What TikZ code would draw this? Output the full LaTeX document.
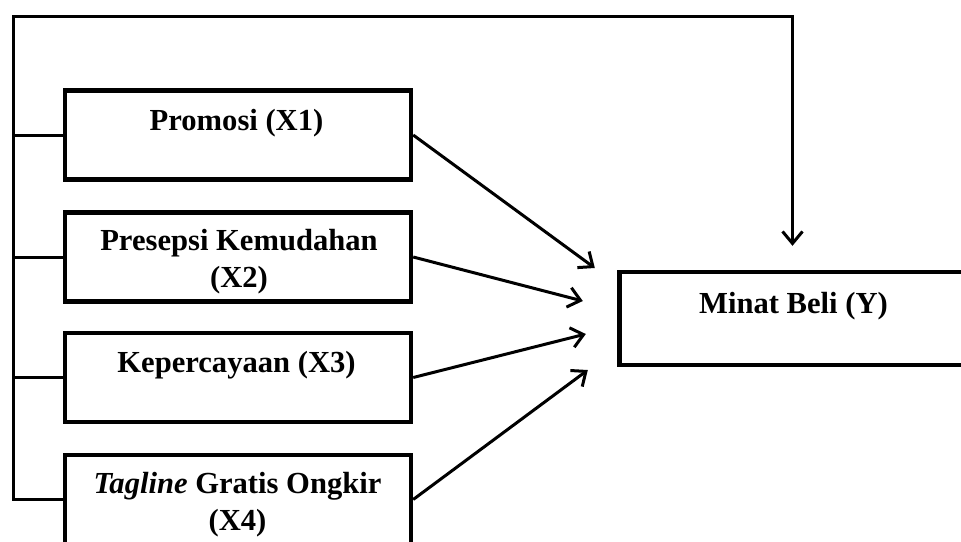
\documentclass[tikz,border=0pt]{standalone}
\usepackage{fontspec}
\setmainfont{Liberation Serif}
\usetikzlibrary{arrows.meta}

\begin{document}
\begin{tikzpicture}[x=0.5pt, y=-0.5pt,
    box/.style={draw, line width=2.2pt, minimum width=173pt, minimum height=44.5pt, inner sep=0pt},
    txt/.style={font=\fontsize{15.3}{18.5}\selectfont\bfseries, align=center, inner sep=0pt, anchor=base},
    link/.style={line width=1.5pt},
    >={Straight Barb[length=6pt, width=10pt]}]
    \useasboundingbox (0,0) rectangle (961,541);

    \node[box] (x1) at (238, 135) {};
    \node[box] (x2) at (238, 257) {};
    \node[box] (x3) at (238, 377.5) {};
    \node[box] (x4) at (238, 499.5) {};
    \node[box, minimum height=46.5pt] (y) at (792.5, 318.5) {};

    \node[txt] (t1) at (236.5, 130) {Promosi (X1)};
    \node[txt] (t2) at (239, 287) {Presepsi Kemudahan\\(X2)};
    \node[txt] (t3) at (236.5, 372) {Kepercayaan (X3)};
    \node[txt] (t4) at (237.5, 530) {\textit{Tagline} Gratis Ongkir\\(X4)};
    \node[txt] (ty) at (793.5, 313) {Minat Beli (Y)};

    % control line round the left and over the top
    \coordinate (corner) at (13, 16);
    \draw[link, ->, shorten >=12pt] (x4.west) -| (corner) -| (y.north);
    \foreach \b in {x1, x2, x3}
        \draw[link] (\b.west) -- (\b.west -| corner);

    \draw[link]
        (x1.east) edge[->] ([shift={(-22.5, -50.5)}]y.west)
        (x2.east) edge[->] ([shift={(-34.5, -17.5)}]y.west)
        (x3.east) edge[->] ([shift={(-31.5, 15.5)}]y.west)
        (x4.east) edge[->] ([shift={(-29.5, 51.5)}]y.west);
\end{tikzpicture}
\end{document}
